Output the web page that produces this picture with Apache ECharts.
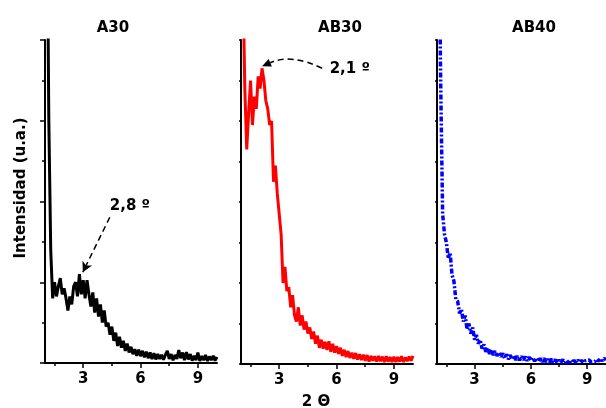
<!DOCTYPE html>
<html>
<head>
<meta charset="utf-8">
<script src="https://cdn.jsdelivr.net/npm/echarts@6/dist/echarts.min.js"></script>
<style>html,body{margin:0;padding:0;background:#fff;}#c{width:606px;height:408px;}</style>
</head>
<body>
<div id="c"></div>
<script>
// ---- data ----
const panelTitles = ['A30', 'AB30', 'AB40'];
const twoTheta = [1.1,1.2,1.3,1.4,1.5,1.6,1.7,1.8,1.9,2.0,2.1,2.2,2.3,2.4,2.5,2.6,2.7,2.8,2.9,3.0,
  3.1,3.2,3.3,3.4,3.5,3.6,3.7,3.8,3.9,4.0,4.1,4.2,4.3,4.4,4.5,4.6,4.7,4.8,4.9,5.0,
  5.1,5.2,5.3,5.4,5.5,5.6,5.7,5.8,5.9,6.0,6.1,6.2,6.3,6.4,6.5,6.6,6.7,6.8,6.9,7.0,
  7.1,7.2,7.3,7.4,7.5,7.6,7.7,7.8,7.9,8.0,8.1,8.2,8.3,8.4,8.5,8.6,8.7,8.8,8.9,9.0,
  9.1,9.2,9.3,9.4,9.5,9.6,9.7,9.8,9.9,10.0];
const intA30 = [12,6.0,2.8,1.6,2.0,1.65,1.9,2.1,1.7,1.85,1.6,1.3,1.65,1.45,1.9,2.0,1.65,2.2,1.7,2.05,
  1.6,2.05,1.7,1.4,1.75,1.25,1.6,1.15,1.45,1.0,1.3,0.9,1.0,0.7,0.9,0.55,0.75,0.42,0.65,0.38,
  0.55,0.3,0.48,0.26,0.4,0.22,0.34,0.18,0.33,0.17,0.3,0.14,0.28,0.12,0.26,0.1,0.24,0.09,0.22,0.1,
  0.2,0.08,0.2,0.3,0.1,0.22,0.07,0.2,0.1,0.32,0.12,0.26,0.07,0.27,0.09,0.22,0.06,0.18,0.07,0.26,
  0.05,0.17,0.07,0.2,0.05,0.16,0.07,0.18,0.06,0.15];
const intAB30 = [9.5,6.8,5.3,6.2,7.0,5.9,6.6,6.3,7.1,6.8,7.3,7.0,6.5,6.3,5.9,6.0,4.5,4.9,4.2,3.7,
  3.2,2.0,2.4,1.8,1.9,1.4,1.7,1.2,1.05,1.4,0.95,1.2,0.85,1.05,0.75,0.9,0.62,0.8,0.5,0.7,
  0.4,0.6,0.38,0.55,0.35,0.56,0.3,0.5,0.28,0.44,0.25,0.4,0.2,0.35,0.17,0.32,0.15,0.28,0.13,0.27,
  0.11,0.24,0.1,0.23,0.08,0.22,0.06,0.2,0.08,0.19,0.06,0.2,0.07,0.18,0.05,0.19,0.06,0.17,0.05,0.18,
  0.05,0.17,0.06,0.19,0.05,0.16,0.07,0.18,0.08,0.2];
const intAB40 = [11,6.8,3.7,3.2,3.0,2.6,2.75,2.2,2.05,1.6,1.55,1.25,1.35,1.05,1.2,0.85,1.0,0.75,0.9,0.6,
  0.72,0.5,0.6,0.38,0.48,0.3,0.4,0.25,0.36,0.22,0.32,0.2,0.28,0.18,0.26,0.14,0.24,0.12,0.22,0.11,
  0.21,0.1,0.2,0.09,0.19,0.1,0.18,0.08,0.17,0.08,0.16,0.07,0.15,0.06,0.14,0.05,0.14,0.05,0.12,0.04,
  0.13,0.04,0.11,0.03,0.1,0.04,0.11,0.03,0.09,0.03,0.1,0.04,0.09,0.03,0.1,0.04,0.09,0.03,0.08,0.04,
  0.1,0.05,0.09,0.06,0.12,0.07,0.13,0.08,0.14,0.1];
const xMajorTicks = [3, 6, 9];
const xMinorTicks = [1.5, 4.5, 7.5];
const xTickLabels = [3, 6, 9];
const peakA30 = { label: '2,8 º', text: [4.39, 3.89], from: [4.39, 3.61], to: [2.98, 2.25] };
const peakAB30 = { label: '2,1 º', text: [5.64, 7.28], from: [5.25, 7.30], to: [2.1, 7.35] };

// ---- layout / style ----
const FONT = '"DejaVu Sans", "Liberation Sans", Arial, sans-serif';
const grids = [
  { left: 45, top: 40, width: 172, height: 323 },
  { left: 241, top: 40, width: 172, height: 324 },
  { left: 437, top: 40, width: 172, height: 324 }
];
const colors = ['#000000', '#ff0000', '#0000ff'];
const seriesData = [intA30, intAB30, intAB40];

const xAxes = [], yAxes = [], series = [];
grids.forEach((g, i) => {
  xAxes.push({
    type: 'value', gridIndex: i, min: 1, max: 10, position: 'bottom',
    axisLine: { show: true, lineStyle: { color: '#000', width: 2 } },
    axisTick: { show: true, customValues: xMajorTicks, length: 5, lineStyle: { color: '#000', width: 1.5 } },
    axisLabel: { show: true, customValues: xTickLabels, color: '#000', fontFamily: FONT, fontWeight: 'bold', fontSize: 15, margin: 9 },
    splitLine: { show: false }
  });
  xAxes.push({
    type: 'value', gridIndex: i, min: 1, max: 10, position: 'bottom', offset: 0,
    axisLine: { show: false },
    axisTick: { show: true, customValues: xMinorTicks, length: 3, lineStyle: { color: '#000', width: 1.5 } },
    axisLabel: { show: false },
    splitLine: { show: false }
  });
  yAxes.push({
    type: 'value', gridIndex: i, min: 0, max: 8, interval: i === 0 ? 2 : 1,
    axisLine: { show: true, lineStyle: { color: '#000', width: 2 } },
    axisTick: { show: true, length: i === 0 ? 5 : 2, lineStyle: { color: '#000', width: 1.5 } },
    minorTick: { show: i === 0, splitNumber: 2, length: 3, lineStyle: { color: '#000', width: 1.5 } },
    axisLabel: { show: false },
    splitLine: { show: false }
  });
  series.push({
    type: 'line', xAxisIndex: i * 2, yAxisIndex: i,
    data: twoTheta.map((x, k) => [x, seriesData[i][k]]),
    showSymbol: false, symbol: 'none', clip: true, animation: false,
    lineStyle: { color: colors[i], width: i === 2 ? 3.5 : 3, type: i === 2 ? [5, 2, 2, 2] : 'solid' }
  });
});

function peakLabel(s, p) {
  s.markPoint = {
    silent: true, animation: false, symbol: 'circle', symbolSize: 0,
    label: { show: true, position: 'right', distance: 0, formatter: p.label, color: '#000', fontFamily: FONT, fontWeight: 'bold', fontSize: 15 },
    data: [{ coord: p.text }]
  };
}
series[0].markLine = {
  silent: true, animation: false, symbol: ['none', 'arrow'], symbolSize: [8, 10],
  label: { show: false },
  lineStyle: { color: '#000', width: 1.5, type: [6, 4] },
  data: [[{ coord: peakA30.from }, { coord: peakA30.to }]]
};
peakLabel(series[0], peakA30);
peakLabel(series[1], peakAB30);

const titleX = [113, 340, 534];
const graphic = panelTitles.map((t, i) => ({
  type: 'text', id: 'title' + i, x: titleX[i], y: 28,
  style: { text: t, fill: '#000', font: 'bold 15px ' + FONT, textAlign: 'center', textVerticalAlign: 'middle' }
}));
graphic.push({
  type: 'text', id: 'yname', x: 21, y: 188, rotation: Math.PI / 2,
  style: { text: 'Intensidad (u.a.)', fill: '#000', font: 'bold 15px ' + FONT, textAlign: 'center', textVerticalAlign: 'middle' }
});
graphic.push({
  type: 'text', id: 'xname', x: 316, y: 402,
  style: { text: '2 Θ', fill: '#000', font: 'bold 15px ' + FONT, textAlign: 'center', textVerticalAlign: 'middle' }
});

const chart = echarts.init(document.getElementById('c'), null, { renderer: 'canvas' });
chart.setOption({
  animation: false,
  backgroundColor: '#fff',
  grid: grids,
  xAxis: xAxes,
  yAxis: yAxes,
  series: series,
  graphic: graphic
});

// curved dashed arrow for AB30 peak, positioned through the grid's own scale
const p1 = chart.convertToPixel({ gridIndex: 1 }, peakAB30.from);
const p2 = chart.convertToPixel({ gridIndex: 1 }, peakAB30.to);
const bow = 14;
const mx = (p1[0] + p2[0]) / 2, my = (p1[1] + p2[1]) / 2;
const dx = p2[0] - p1[0], dy = p2[1] - p1[1];
const L = Math.hypot(dx, dy);
const cpx = mx + (dy / L) * bow, cpy = my + (dx / L) * bow;
// ensure the control point is above the chord
const cp = cpy < my ? [cpx, cpy] : [mx - (dy / L) * bow, my - (dx / L) * bow];
const tx = p2[0] - cp[0], ty = p2[1] - cp[1];
const tl = Math.hypot(tx, ty);
const ux = tx / tl, uy = ty / tl;
const headLen = 9, headW = 4;
const baseX = p2[0] - ux * headLen, baseY = p2[1] - uy * headLen;
graphic.push({
  type: 'bezierCurve', id: 'curve', silent: true,
  shape: { x1: p1[0], y1: p1[1], x2: baseX, y2: baseY, cpx1: cp[0], cpy1: cp[1] },
  style: { stroke: '#000', lineWidth: 1.5, lineDash: [6, 4], fill: null }
});
graphic.push({
  type: 'polygon', id: 'head', silent: true,
  shape: { points: [[p2[0], p2[1]], [baseX - uy * headW, baseY + ux * headW], [baseX + uy * headW, baseY - ux * headW]] },
  style: { fill: '#000' }
});
chart.setOption({ graphic: graphic });
</script>
</body>
</html>
